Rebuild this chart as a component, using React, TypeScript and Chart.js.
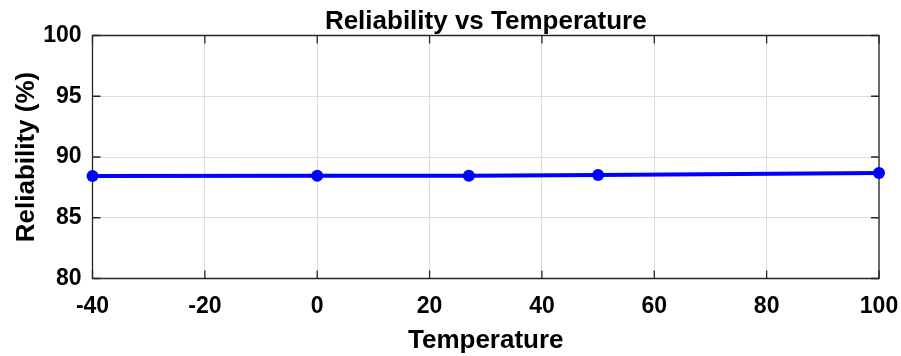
import React, { useEffect, useRef } from "react";
import { Chart, registerables } from "chart.js";

Chart.register(...registerables);

const titleText = "Reliability vs Temperature";
const temperatures = [-40, 0, 27, 50, 100];
const reliability = [88.44, 88.45, 88.46, 88.52, 88.68];
const xTickValues = [-40, -20, 0, 20, 40, 60, 80, 100];
const yTickValues = [80, 85, 90, 95, 100];

const FONT = '"Liberation Sans", Arial, Helvetica, sans-serif';

const boxPlugin = {
  id: "matlabBox",
  beforeDatasetsDraw(chart: any) {
    const { ctx, chartArea, scales } = chart;
    const { left, right, top, bottom } = chartArea;
    ctx.save();
    ctx.strokeStyle = "#262626";
    ctx.lineWidth = 1.3;
    ctx.beginPath();
    ctx.rect(left, top, right - left, bottom - top);
    ctx.stroke();
    const len = 8;
    ctx.beginPath();
    xTickValues.forEach((v) => {
      const x = scales.x.getPixelForValue(v);
      ctx.moveTo(x, bottom);
      ctx.lineTo(x, bottom - len);
      ctx.moveTo(x, top);
      ctx.lineTo(x, top + len);
    });
    yTickValues.forEach((v) => {
      const y = scales.y.getPixelForValue(v);
      ctx.moveTo(left, y);
      ctx.lineTo(left + len, y);
      ctx.moveTo(right, y);
      ctx.lineTo(right - len, y);
    });
    ctx.stroke();
    ctx.restore();
  },
  afterDraw(chart: any) {
    const { ctx, chartArea } = chart;
    ctx.save();
    ctx.fillStyle = "#000";
    ctx.font = `bold 26px ${FONT}`;
    ctx.textAlign = "center";
    ctx.textBaseline = "alphabetic";
    ctx.fillText(titleText, (chartArea.left + chartArea.right) / 2, 28.5);
    ctx.restore();
  },
};

export default function App() {
  const ref = useRef<HTMLCanvasElement>(null);
  useEffect(() => {
    const canvas = ref.current;
    if (!canvas) return;
    const chart = new Chart(canvas, {
      type: "line",
      data: {
        datasets: [
          {
            data: temperatures.map((t, i) => ({ x: t, y: reliability[i] })),
            borderColor: "#0000ff",
            backgroundColor: "#0000ff",
            borderWidth: 4,
            pointRadius: 6,
            pointBackgroundColor: "#0000ff",
            pointBorderWidth: 0,
            tension: 0,
            clip: false as any,
          },
        ],
      },
      options: {
        animation: false,
        responsive: false,
        devicePixelRatio: 1,
        layout: { padding: { left: 0, right: 22, top: 35.5, bottom: 0 } },
        plugins: {
          legend: { display: false },
          tooltip: { enabled: false },
          title: { display: false },
        },
        scales: {
          x: {
            type: "linear",
            min: -40,
            max: 100,
            afterBuildTicks: (s: any) => {
              s.ticks = xTickValues.map((v) => ({ value: v }));
            },
            afterFit: (s: any) => {
              s.height = 77.5;
              s.paddingLeft = 0;
              s.paddingRight = 0;
            },
            ticks: {
              color: "#000",
              font: { family: FONT, size: 23, weight: "bold" },
              padding: 14,
              maxRotation: 0,
            },
            grid: { color: "#dcdcdc", lineWidth: 1, drawTicks: false },
            border: { display: false },
            title: {
              display: true,
              text: "Temperature",
              color: "#000",
              font: { family: FONT, size: 26, weight: "bold" },
              padding: { top: 0, bottom: 0 },
            },
          },
          y: {
            type: "linear",
            min: 80,
            max: 100,
            afterBuildTicks: (s: any) => {
              s.ticks = yTickValues.map((v) => ({ value: v }));
            },
            afterFit: (s: any) => {
              s.width = 92.5;
              s.paddingTop = 0;
              s.paddingBottom = 0;
            },
            ticks: {
              color: "#000",
              font: { family: FONT, size: 23, weight: "bold" },
              padding: 11,
            },
            grid: { color: "#dcdcdc", lineWidth: 1, drawTicks: false },
            border: { display: false },
            title: {
              display: true,
              text: "Reliability (%)",
              color: "#000",
              font: { family: FONT, size: 26, weight: "bold" },
              padding: { top: 11, bottom: 0 },
            },
          },
        },
      },
      plugins: [boxPlugin],
    });
    return () => chart.destroy();
  }, []);
  return (
    <div style={{ position: "fixed", left: 0, top: 0, width: 901, height: 356, background: "#fff" }}>
      <canvas ref={ref} width={901} height={356} style={{ display: "block", width: 901, height: 356 }} />
    </div>
  );
}
